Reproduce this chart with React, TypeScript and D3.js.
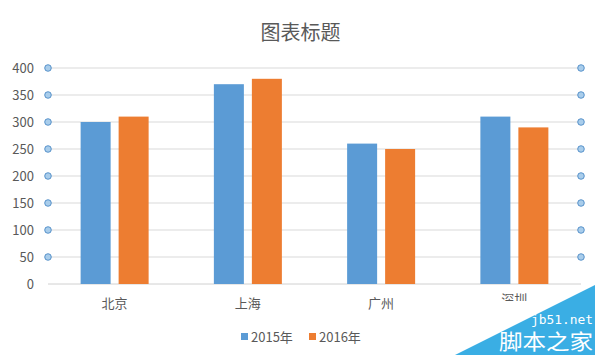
import React from "react";
import * as d3 from "d3";

const categories = ["北京", "上海", "广州", "深圳"];
const seriesNames = ["2015年", "2016年"];
const values2015 = [300, 370, 260, 310];
const values2016 = [310, 380, 250, 290];
const yTicks = [0, 50, 100, 150, 200, 250, 300, 350, 400];
const colors = ["#5B9BD5", "#ED7D31"];

export default function App() {
  const W = 595, H = 355;
  const left = 48, right = 581, top = 68, bottom = 284;
  const x = d3.scaleBand<string>().domain(categories).range([left, right]).padding(0);
  const y = d3.scaleLinear().domain([0, 400]).range([bottom, top]);
  const barW = 30, gap = 8;
  const series = [values2015, values2016];
  const font = "'Microsoft YaHei', 'Noto Sans CJK SC', 'DejaVu Sans', sans-serif";
  const textColor = "#595959";

  return (
    <svg width={W} height={H} style={{ position: "absolute", left: 0, top: 0, background: "#fff" }} fontFamily={font}>
      <defs>
        <clipPath id="szClip">
          <rect x={0} y={0} width={W} height={301} />
        </clipPath>
      </defs>
      <rect x={0} y={0} width={W} height={H} fill="#fff" />
      <text x={W / 2 + 3} y={40} textAnchor="middle" fontSize={20} fill={textColor}>图表标题</text>
      {yTicks.map((t) => (
        <g key={t}>
          <line x1={left} x2={right} y1={y(t)} y2={y(t)} stroke={t === 0 ? "#D0D0D0" : "#D9D9D9"} strokeWidth={1} />
          <text x={34} y={y(t)} dy="0.35em" textAnchor="end" fontSize={13} fill={textColor}>{t}</text>
        </g>
      ))}
      {categories.map((c, i) => {
        const cx = x(c)! + x.bandwidth() / 2;
        return (
          <g key={c}>
            {series.map((vals, s) => {
              const bx = cx - gap / 2 - barW + s * (barW + gap);
              return <rect key={s} x={bx} y={y(vals[i])} width={barW} height={y(0) - y(vals[i])} fill={colors[s]} />;
            })}
            <text x={cx} y={i === 3 ? 299 : 303} dy="0.35em" textAnchor="middle" fontSize={13} fill={textColor}
              clipPath={i === 3 ? "url(#szClip)" : undefined}>{c}</text>
          </g>
        );
      })}
      {yTicks.filter((t) => t > 0).map((t) => (
        <g key={"c" + t}>
          <circle cx={left} cy={y(t)} r={3.3} fill="#A9CDEB" stroke="#3C7FC0" strokeWidth={0.8} />
          <circle cx={right} cy={y(t)} r={3.3} fill="#A9CDEB" stroke="#3C7FC0" strokeWidth={0.8} />
        </g>
      ))}
      {seriesNames.map((n, s) => {
        const lx = 241 + s * 68;
        return (
          <g key={n}>
            <rect x={lx} y={333} width={7} height={7} fill={colors[s]} />
            <text x={lx + 10} y={337} dy="0.35em" fontSize={13} fill={textColor}>{n}</text>
          </g>
        );
      })}
      <polygon points="455,355 595,285 595,355" fill="#3AAEE4" />
      <text x={531} y={324} fontSize={13} textLength={62} lengthAdjust="spacingAndGlyphs" fill="#fff" fontFamily="'DejaVu Sans Mono', monospace">jb51.net</text>
      <text x={499} y={349} fontSize={21} textLength={94} lengthAdjust="spacingAndGlyphs" fill="#fff" fontFamily="'Noto Sans CJK SC', sans-serif">脚本之家</text>
    </svg>
  );
}
